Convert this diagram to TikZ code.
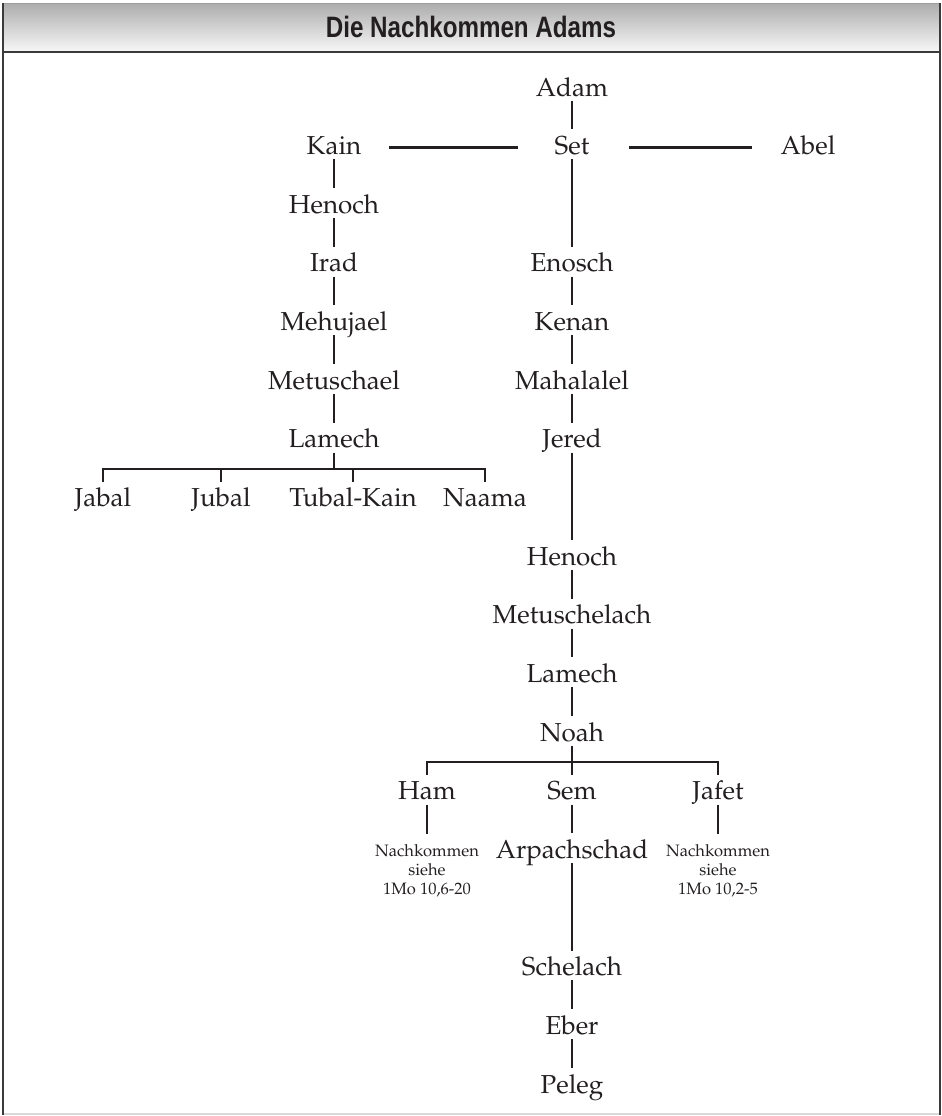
\documentclass[tikz,border=0pt]{standalone}
\usepackage[T1]{fontenc}
\usepackage{fontspec}
\newfontfamily\titlefont{Liberation Sans}[FakeStretch=0.82]
\newcommand\palbig{\fontencoding{T1}\fontfamily{ppl}\fontseries{m}\fontshape{n}\fontsize{26}{30}\selectfont}
\newcommand\palsmall{\fontencoding{T1}\fontfamily{ppl}\fontseries{m}\fontshape{n}\fontsize{16.5}{19}\selectfont}
\definecolor{ink}{HTML}{231F20}
\definecolor{frame}{HTML}{3A3A3A}
\definecolor{hdtop}{HTML}{AEAEAE}
\definecolor{hdbot}{HTML}{F8F8F8}
\begin{document}
\begin{tikzpicture}[x=1pt,y=-1pt,
  nm/.style={font=\palbig, text=ink, inner sep=0pt, text height=17.5pt, text depth=0pt, anchor=base},
  sm/.style={font=\palsmall, text=ink, inner sep=0pt, align=center, anchor=north},
  ln/.style={line width=2.9pt, draw=ink},
  ]
\useasboundingbox (0,0) rectangle (942,1116);
% frame
\shade[top color=hdtop, bottom color=hdbot] (3,4) rectangle (940,52);
\draw[line width=1.5pt, draw=gray!75] (3,3.5) -- (940,3.5);
\draw[line width=2pt, draw=frame] (3,52) -- (940,52);
\draw[line width=2pt, draw=black!15] (3,1114) -- (940,1114);
\draw[line width=2.5pt, draw=frame] (3,3) -- (3,1115);
\draw[line width=2.5pt, draw=frame] (940,3) -- (940,1115);
\node[font=\titlefont\bfseries\fontsize{29.5}{34}\selectfont, text=ink, anchor=base, inner sep=0pt] (title) at (471,38) {Die Nachkommen Adams};
% main column
\node[nm] (adam) at (572,96) {Adam};
\node[nm] (set) at (572,154.65) {Set};
\node[nm] (enosch) at (572,271.95) {Enosch};
\node[nm] (kenan) at (572,330.6) {Kenan};
\node[nm] (mahalalel) at (572,389.25) {Mahalalel};
\node[nm] (jered) at (572,447.9) {Jered};
\node[nm] (henochR) at (572,565.2) {Henoch};
\node[nm] (metuschelach) at (572,623.85) {Metuschelach};
\node[nm] (lamechR) at (572,682.5) {Lamech};
\node[nm] (noah) at (572,741.15) {Noah};
\node[nm] (sem) at (572,799.8) {Sem};
\node[nm] (arpachschad) at (572,858.45) {Arpachschad};
\node[nm] (schelach) at (572,975.75) {Schelach};
\node[nm] (eber) at (572,1034.4) {Eber};
\node[nm] (peleg) at (572,1093.05) {Peleg};
% Kain line
\node[nm] (kain) at (334,154.65) {Kain};
\node[nm] (henochL) at (334,213.3) {Henoch};
\node[nm] (irad) at (334,271.95) {Irad};
\node[nm] (mehujael) at (334,330.6) {Mehujael};
\node[nm] (metuschael) at (334,389.25) {Metuschael};
\node[nm] (lamechL) at (334,447.9) {Lamech};
\node[nm] (abel) at (808,154.65) {Abel};
% Lamech's children
\node[nm] (jabal) at (103,506.55) {Jabal};
\node[nm] (jubal) at (221,506.55) {Jubal};
\node[nm] (tubal) at (353,506.55) {Tubal-Kain};
\node[nm] (naama) at (485,506.55) {Naama};
% Noah's sons
\node[nm] (ham) at (427,799.8) {Ham};
\node[nm] (jafet) at (718,799.8) {Jafet};
\node[sm] (hamnote) at (427,844.5) {Nachkommen\\siehe\\1Mo 10,6-20};
\node[sm] (jafetnote) at (718,844.5) {Nachkommen\\siehe\\1Mo 10,2-5};
% connectors
\foreach \a/\b in {adam/set, set/enosch, enosch/kenan, kenan/mahalalel, mahalalel/jered,
  jered/henochR, henochR/metuschelach, metuschelach/lamechR, lamechR/noah,
  sem/arpachschad, arpachschad/schelach, schelach/eber, eber/peleg,
  kain/henochL, henochL/irad, irad/mehujael, mehujael/metuschael, metuschael/lamechL}
  \draw[ln] ([yshift=-4.5pt]\a.south) -- ([yshift=7.5pt]\b.north);
\draw[ln] ([xshift=28pt,yshift=7.5pt]kain.south east) -- ([xshift=-37pt,yshift=7.5pt]set.south west);
\draw[ln] ([xshift=40pt,yshift=7.5pt]set.south east) -- ([xshift=-28pt,yshift=7.5pt]abel.south west);
% Lamech bracket
\coordinate (lb) at (334,469);
\draw[ln] ([yshift=-4.5pt]lamechL.south) -- (lamechL.south |- lb);
\draw[ln] ([yshift=7pt]jabal.north) -- (jabal.north |- lb) -- (naama.north |- lb) -- ([yshift=7pt]naama.north);
\draw[ln] (jubal.north |- lb) -- ([yshift=7pt]jubal.north);
\draw[ln] (tubal.north |- lb) -- ([yshift=7pt]tubal.north);
% Noah bracket
\coordinate (nb) at (572,762);
\draw[ln] ([yshift=-4.5pt]noah.south) -- (noah.south |- nb);
\draw[ln] ([yshift=7.5pt]ham.north) -- (ham.north |- nb) -- (jafet.north |- nb) -- ([yshift=7.5pt]jafet.north);
\draw[ln] (sem.north |- nb) -- ([yshift=7.5pt]sem.north);
\draw[ln] ([yshift=-4.5pt]ham.south) -- ([yshift=11pt]hamnote.north);
\draw[ln] ([yshift=-4.5pt]jafet.south) -- ([yshift=11pt]jafetnote.north);
\end{tikzpicture}
\end{document}
